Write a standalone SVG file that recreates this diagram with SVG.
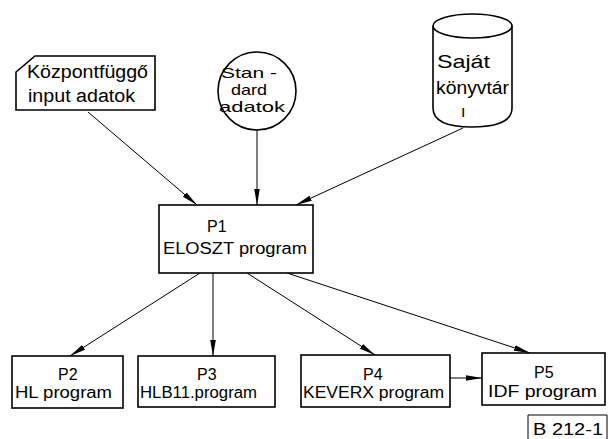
<svg xmlns="http://www.w3.org/2000/svg" width="609" height="439" viewBox="0 0 609 439">
<style>
.b{fill:#fff;stroke:#000;stroke-width:1.6}
.t{font-family:"Liberation Sans","DejaVu Sans",sans-serif;font-size:16px;fill:#000}
.tl{font-family:"Liberation Sans","DejaVu Sans",sans-serif;font-size:18px;fill:#000}
.ts{font-family:"Liberation Sans","DejaVu Sans",sans-serif;font-size:15px;fill:#000}
.c{stroke:#000;stroke-width:1;fill:none;marker-end:url(#ah)}
</style>
<defs>
<marker id="ah" markerUnits="userSpaceOnUse" markerWidth="18" markerHeight="10" refX="16" refY="5" orient="auto">
<path d="M0,2.2 L16,5 L0,7.8 Q-1.5,5 0,2.2 z" fill="#000"/>
</marker>
</defs>
<rect width="609" height="439" fill="#fff"/>
<g id="connectors">
<line class="c" x1="88" y1="112" x2="197" y2="205"/>
<line class="c" x1="257" y1="129" x2="257" y2="205"/>
<line class="c" x1="463" y1="128" x2="296" y2="205"/>
<line class="c" x1="200" y1="273" x2="70" y2="356"/>
<line class="c" x1="213" y1="273" x2="213" y2="356"/>
<line class="c" x1="247" y1="273" x2="375" y2="355"/>
<line class="c" x1="287" y1="273" x2="530" y2="353"/>
<line class="c" x1="450" y1="378" x2="482" y2="378"/>
</g>
<g id="kozpont">
<path class="b" d="M35,56 L155,56 L155,110 L16,110 L16,72 Z"/>
<text class="tl" x="27" y="78" textLength="121" lengthAdjust="spacingAndGlyphs">Központfüggő</text>
<text class="tl" x="28" y="102" textLength="107" lengthAdjust="spacingAndGlyphs">input adatok</text>
</g>
<g id="standard">
<circle class="b" cx="257" cy="91" r="39"/>
<text class="ts" x="221" y="78" textLength="56" lengthAdjust="spacingAndGlyphs">Stan -</text>
<text class="ts" x="231" y="95" textLength="36" lengthAdjust="spacingAndGlyphs">dard</text>
<text class="ts" x="219" y="112" textLength="66" lengthAdjust="spacingAndGlyphs">adatok</text>
</g>
<g id="sajat">
<path class="b" d="M433,26 L433,108 Q433,127 472,127 Q512,127 512,108 L512,26"/>
<ellipse class="b" cx="472.5" cy="26" rx="39.5" ry="12"/>
<text class="tl" x="437" y="68" textLength="53" lengthAdjust="spacingAndGlyphs">Saját</text>
<text class="tl" x="436" y="94" textLength="73" lengthAdjust="spacingAndGlyphs">könyvtár</text>
<text class="t" x="461" y="117" font-size="13">ı</text>
</g>
<g id="p1">
<rect class="b" x="159" y="205" width="154" height="68"/>
<text class="t" x="207" y="232">P1</text>
<text class="t" x="163" y="254" textLength="144" lengthAdjust="spacingAndGlyphs">ELOSZT program</text>
</g>
<g id="p2">
<rect class="b" x="12" y="356" width="111" height="52"/>
<text class="t" x="58" y="380">P2</text>
<text class="t" x="15" y="398" textLength="97" lengthAdjust="spacingAndGlyphs">HL program</text>
</g>
<g id="p3">
<rect class="b" x="138" y="356" width="137" height="51"/>
<text class="t" x="197" y="380">P3</text>
<text class="t" x="140" y="398" textLength="117" lengthAdjust="spacingAndGlyphs">HLB11.program</text>
</g>
<g id="p4">
<rect class="b" x="301" y="355" width="149" height="52"/>
<text class="t" x="363" y="380">P4</text>
<text class="t" x="303" y="398" textLength="141" lengthAdjust="spacingAndGlyphs">KEVERX program</text>
</g>
<g id="p5">
<rect class="b" x="482" y="353" width="123" height="52"/>
<text class="t" x="534" y="378">P5</text>
<text class="t" x="488" y="397" textLength="109" lengthAdjust="spacingAndGlyphs">IDF program</text>
</g>
<g id="label">
<path d="M528,439 L528,415 L607,415 L607,439" fill="none" stroke="#000" stroke-width="1"/>
<text class="t" x="533" y="435" textLength="70" lengthAdjust="spacingAndGlyphs">B 212-1</text>
</g>
</svg>
